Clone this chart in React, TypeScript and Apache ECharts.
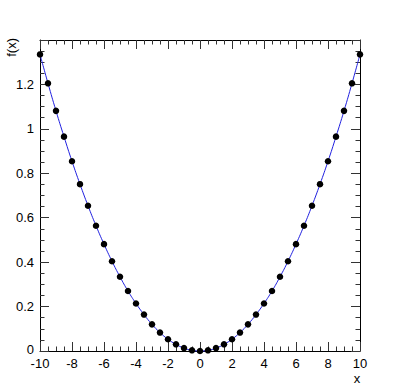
import React, { useEffect, useRef } from "react";
import * as echarts from "echarts";

const xValues = [
  -10, -9.5, -9, -8.5, -8, -7.5, -7, -6.5, -6, -5.5, -5, -4.5, -4, -3.5, -3, -2.5, -2, -1.5, -1, -0.5,
  0, 0.5, 1, 1.5, 2, 2.5, 3, 3.5, 4, 4.5, 5, 5.5, 6, 6.5, 7, 7.5, 8, 8.5, 9, 9.5, 10,
];
const fValues = [
  1.335, 1.205, 1.081, 0.965, 0.854, 0.751, 0.654, 0.564, 0.481, 0.404, 0.334, 0.27, 0.214, 0.164, 0.12,
  0.083, 0.053, 0.03, 0.013, 0.003, 0, 0.003, 0.013, 0.03, 0.053, 0.083, 0.12, 0.164, 0.214, 0.27, 0.334,
  0.404, 0.481, 0.564, 0.654, 0.751, 0.854, 0.965, 1.081, 1.205, 1.335,
];
const xTitle = "x";
const yTitle = "f(x)";
const yZeroLabel = "0";

const FONT = "'Liberation Sans', Arial, Helvetica, sans-serif";

export default function App() {
  const ref = useRef<HTMLDivElement>(null);
  useEffect(() => {
    if (!ref.current) return;
    const chart = echarts.init(ref.current, null, { renderer: "svg" });
    const axisLine = { show: true, onZero: false, lineStyle: { color: "#000", width: 1 } };
    const tick = { show: true, inside: true, length: 9, lineStyle: { color: "#333", width: 1 } };
    const minor = { show: true, splitNumber: 4, length: 4.5, lineStyle: { color: "#333", width: 1 } };
    const label = { color: "#000", fontSize: 13, fontFamily: FONT };
    chart.setOption({
      animation: false,
      backgroundColor: "#fff",
      grid: { left: 40, right: 40, top: 40, bottom: 40, containLabel: false },
      xAxis: [
        {
          type: "value", min: -10, max: 10, interval: 2, position: "bottom",
          axisLine, axisTick: tick, minorTick: minor, splitLine: { show: false },
          axisLabel: { ...label, margin: 6, lineHeight: 12 },
        },
        {
          type: "value", min: -10, max: 10, interval: 2, position: "top",
          axisLine, axisTick: tick, minorTick: minor, splitLine: { show: false },
          axisLabel: { show: false },
        },
      ],
      yAxis: [
        {
          type: "value", min: 0, max: 1.4, interval: 0.2, position: "left",
          axisLine, axisTick: tick, minorTick: minor, splitLine: { show: false },
          axisLabel: {
            ...label, margin: 6,
            formatter: (v: number) => (v > 1.3 || v === 0 ? "" : String(parseFloat(v.toFixed(1)))),
          },
        },
        {
          type: "value", min: 0, max: 1.4, interval: 0.2, position: "right",
          axisLine, axisTick: tick, minorTick: minor, splitLine: { show: false },
          axisLabel: { show: false },
        },
      ],
      series: [
        {
          type: "line",
          xAxisIndex: 0,
          yAxisIndex: 0,
          data: xValues.map((x, i) => [x, fValues[i]]),
          smooth: true,
          clip: false,
          symbol: "circle",
          symbolSize: 6.5,
          itemStyle: { color: "#000" },
          lineStyle: { color: "#2020e0", width: 1 },
          z: 3,
        },
      ],
      graphic: [
        {
          type: "text", x: 34, y: 349.5,
          style: { text: yZeroLabel, fontSize: 13, fontFamily: FONT, fill: "#000", textAlign: "right", textVerticalAlign: "middle" },
        },
        {
          type: "text", x: 357, y: 378.5,
          style: { text: xTitle, fontSize: 13, fontFamily: FONT, fill: "#000", textAlign: "center", textVerticalAlign: "middle" },
        },
        {
          type: "text", x: 5, y: 38, rotation: Math.PI / 2,
          style: { text: yTitle, fontSize: 13, fontFamily: FONT, fill: "#000", textAlign: "right", textVerticalAlign: "top" },
        },
      ],
    });
    return () => chart.dispose();
  }, []);
  return <div ref={ref} style={{ position: "fixed", left: 0, top: 0, width: 400, height: 391 }} />;
}
